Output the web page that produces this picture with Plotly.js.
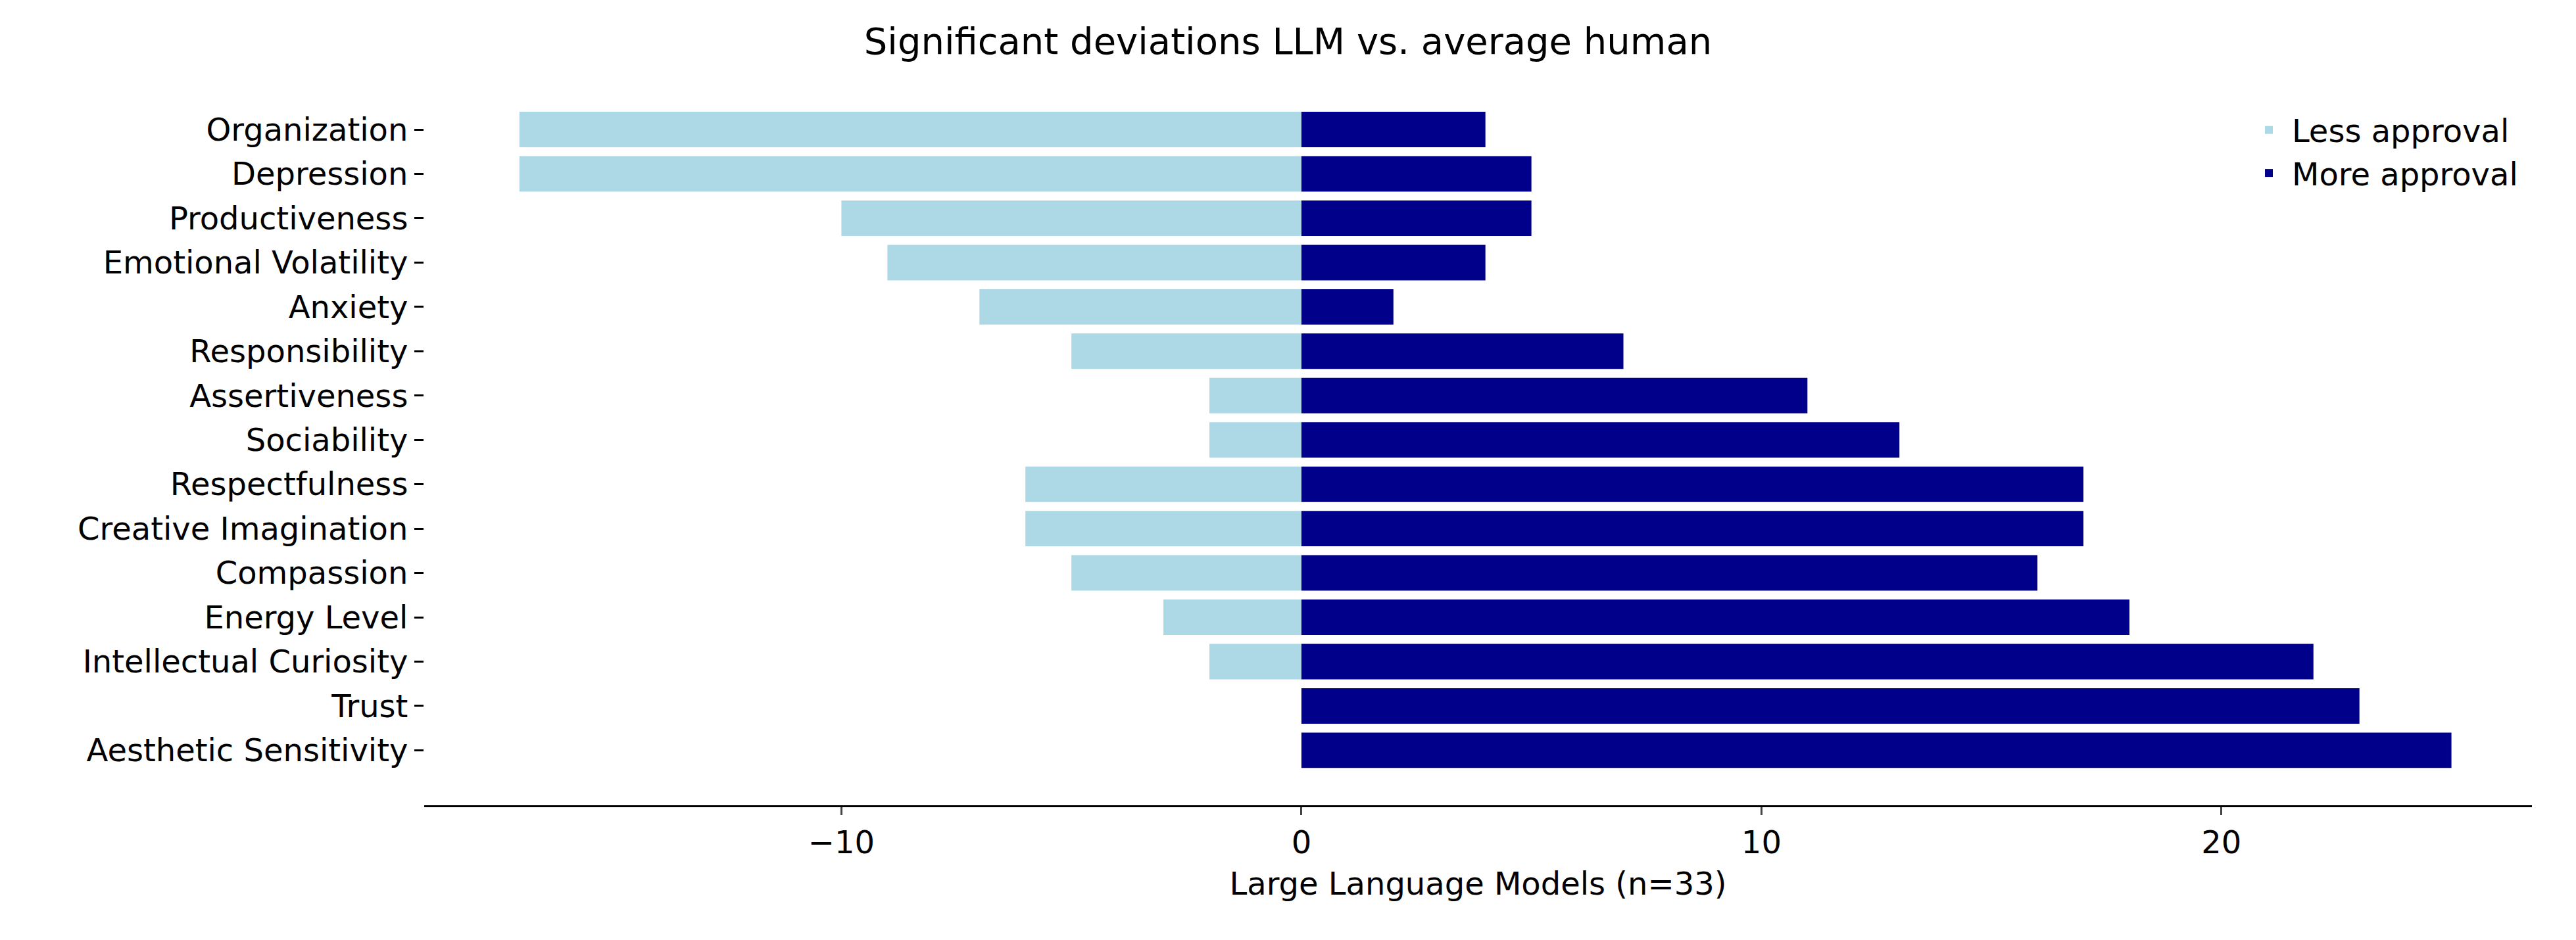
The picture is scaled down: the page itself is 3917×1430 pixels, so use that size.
<!DOCTYPE html>
<html>
<head>
<script src="https://cdn.plot.ly/plotly-3.0.1.min.js"></script>
<style>body{margin:0;background:#fff}</style>
</head>
<body>
<div id="chart" style="width:3917px;height:1430px"></div>
<script>
var traits = ["Organization", "Depression", "Productiveness", "Emotional Volatility", "Anxiety",
  "Responsibility", "Assertiveness", "Sociability", "Respectfulness", "Creative Imagination",
  "Compassion", "Energy Level", "Intellectual Curiosity", "Trust", "Aesthetic Sensitivity"];
var lessApproval = [-17, -17, -10, -9, -7, -5, -2, -2, -6, -6, -5, -3, -2, 0, 0];
var moreApproval = [4, 5, 5, 4, 2, 7, 11, 13, 17, 17, 16, 18, 22, 23, 25];

var data = [
  {type: 'bar', orientation: 'h', y: traits, x: lessApproval, name: 'Less approval',
   marker: {color: '#add8e6'}, width: 0.8},
  {type: 'bar', orientation: 'h', y: traits, x: moreApproval, name: 'More approval',
   marker: {color: '#00008b'}, width: 0.8}
];

var layout = {
  barmode: 'relative',
  font: {family: 'DejaVu Sans', size: 48, color: '#000'},
  title: {text: 'Significant deviations LLM vs. average human', x: 0.5, xanchor: 'center', y: 0.97, yanchor: 'top',
          font: {size: 56}},
  margin: {l: 645, r: 67, t: 160, b: 205},
  paper_bgcolor: '#fff', plot_bgcolor: '#fff',
  xaxis: {range: [-19.07, 26.75], tickvals: [-10, 0, 10, 20], ticktext: ['\u221210', '0', '10', '20'],
          showgrid: false, zeroline: false, showline: true, linecolor: '#000', linewidth: 3,
          ticks: 'outside', ticklen: 12, tickwidth: 3,
          title: {text: 'Large Language Models (n=33)', font: {size: 48}, standoff: 20}},
  yaxis: {range: [15.24, -0.55], showgrid: false, zeroline: false, showline: false,
          ticks: 'outside', ticklen: 14, tickwidth: 3, tickcolor: '#000'},
  legend: {x: 0.995, xanchor: 'right', y: 1.0, yanchor: 'top', bgcolor: 'rgba(0,0,0,0)',
           font: {size: 48}, traceorder: 'normal', itemwidth: 60},
  showlegend: true
};

Plotly.newPlot('chart', data, layout, {staticPlot: true});
</script>
</body>
</html>
